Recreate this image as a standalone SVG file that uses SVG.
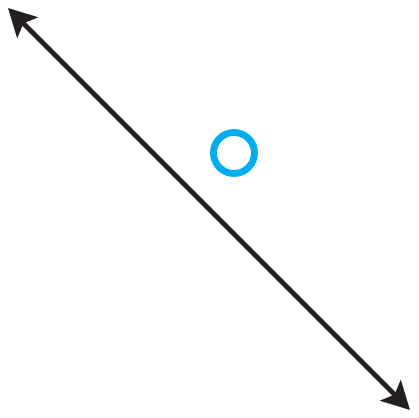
<svg xmlns="http://www.w3.org/2000/svg" width="419" height="418" viewBox="0 0 419 418">
  <style>
    .conn { stroke: #231F20; stroke-width: 5; fill: none; }
    .node { stroke: #00AEEF; stroke-width: 7; fill: none; }
  </style>
  <defs>
    <marker id="arrow" markerUnits="userSpaceOnUse" viewBox="-30 -17 32 34" markerWidth="32" markerHeight="34" refX="-17" refY="0" orient="auto-start-reverse">
      <path d="M0,0 L-28,-15 L-22,0 L-28,15 Z" fill="#231F20"/>
    </marker>
  </defs>
  <g id="connectors">
    <line class="conn" x1="20" y1="20" x2="398" y2="398" marker-start="url(#arrow)" marker-end="url(#arrow)"/>
  </g>
  <g id="point">
    <circle class="node" cx="234" cy="153" r="20.5"/>
  </g>
</svg>
